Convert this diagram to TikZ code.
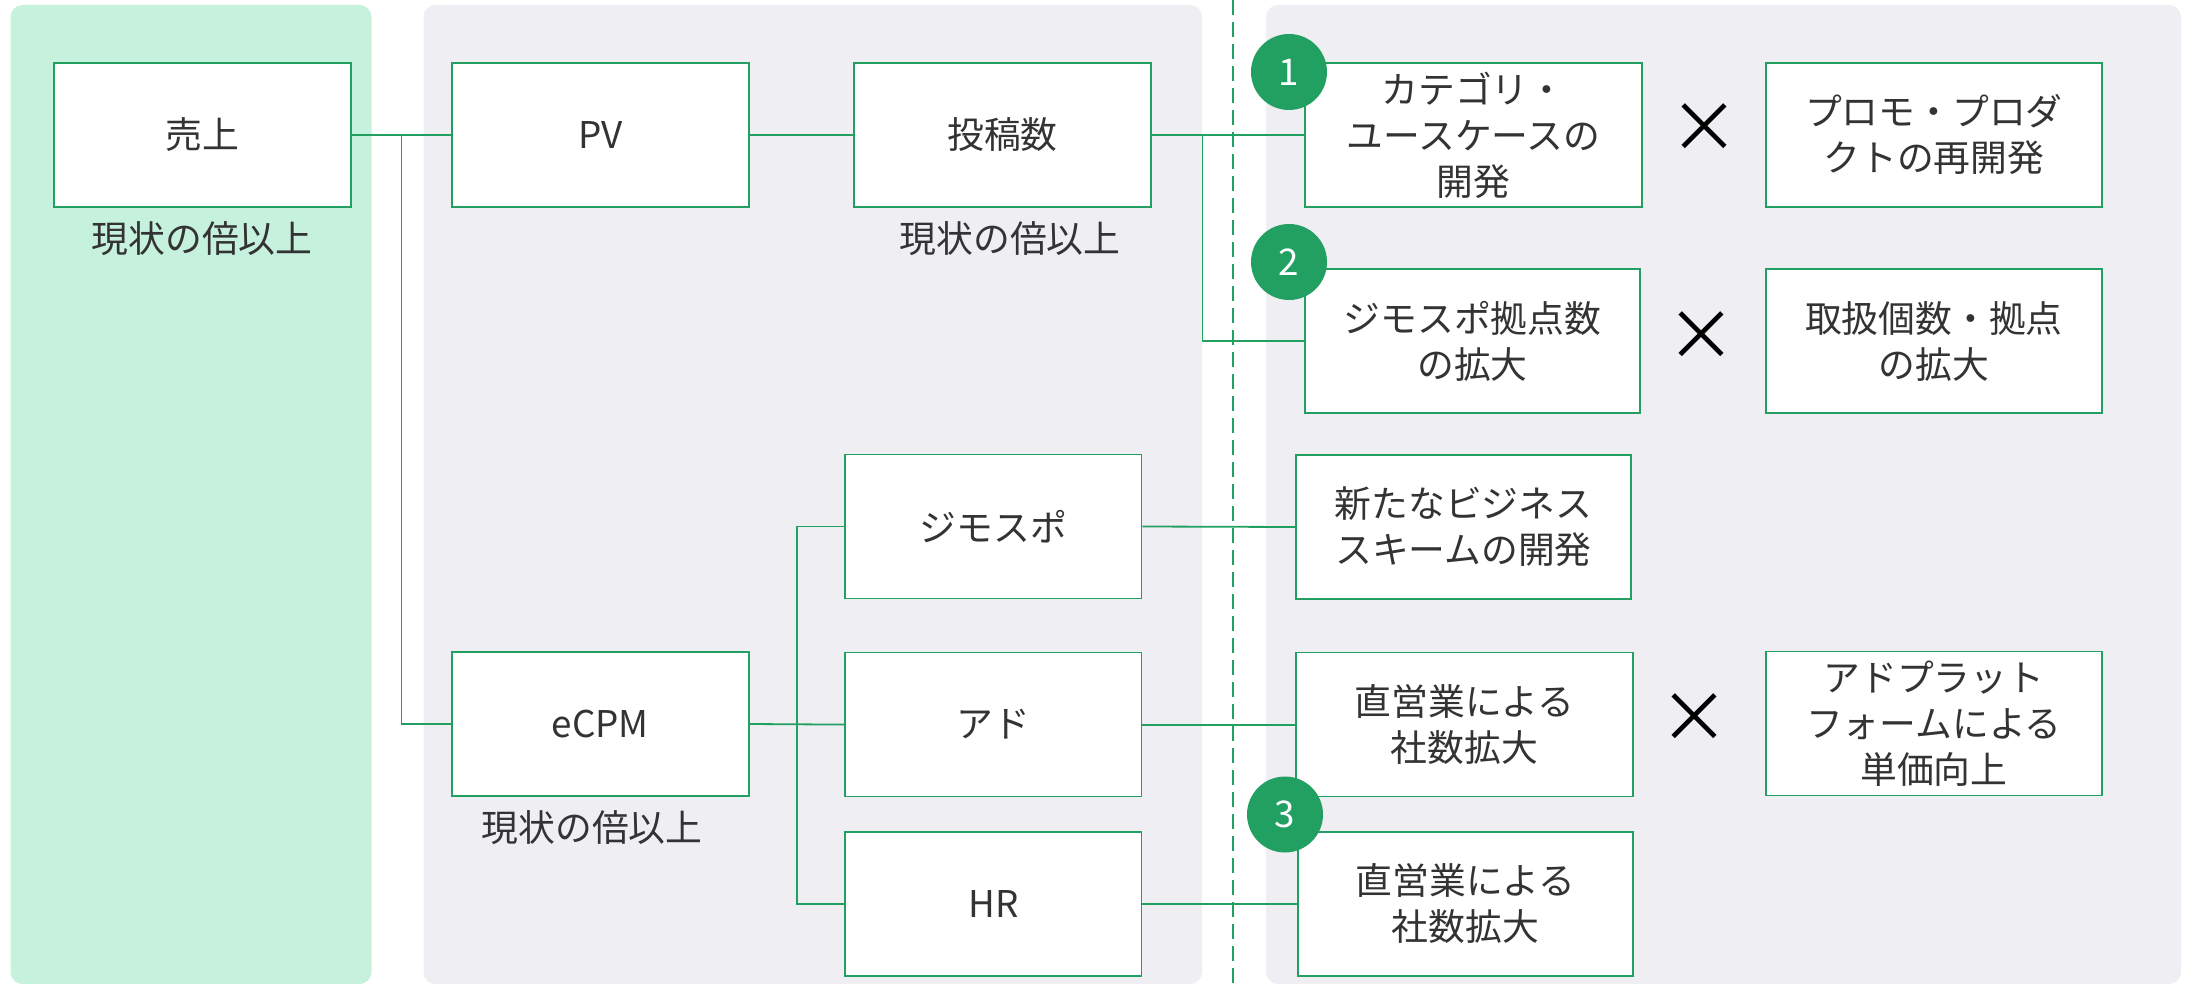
\documentclass[tikz,border=0pt]{standalone}
\usepackage{fontspec}
\setmainfont{Noto Sans CJK JP}
\newfontfamily\jpfont{Noto Sans CJK JP}
\definecolor{mint}{HTML}{C6F1DD}
\definecolor{panelgray}{HTML}{EEEEF3}
\definecolor{linegreen}{HTML}{22A062}
\definecolor{circgreen}{HTML}{21A062}
\definecolor{txt}{HTML}{333333}
\begin{document}
\begin{tikzpicture}[x=1pt,y=-1pt,
  box/.style={draw=linegreen,line width=1.5pt,fill=white,inner sep=0pt,
    minimum height=144pt,align=center,text=txt,
    font=\jpfont\fontsize{36.8}{46}\selectfont},
  lbl/.style={text=txt,inner sep=0pt,font=\jpfont\fontsize{36.8}{46}\selectfont},
  conn/.style={draw=linegreen,line width=1.8pt},
  num/.style={circle,fill=circgreen,minimum size=76pt,inner sep=0pt,text=white,
    font=\jpfont\fontsize{36.8}{46}\selectfont},
  crossmark/.style={inner sep=0pt,text=black,font=\jpfont\fontsize{70}{70}\selectfont},
  panel/.style={rounded corners=12pt}]
\useasboundingbox (0,0) rectangle (2190,984);
% panels
\fill[mint,panel] (10.5,5) rectangle (371.5,984);
\fill[panelgray,panel] (423.5,5) rectangle (1202,984);
\fill[panelgray,panel] (1266,5) rectangle (2181,984);
% dashed divider
\coordinate (dtop) at (1232.6,0);
\coordinate (dbot) at (1232.6,984);
\draw[linegreen,line width=2pt,dash pattern=on 15pt off 7pt] (dtop) -- (dbot);
% boxes
\node[box,minimum width=297pt] (uri) at (202.3,134.9) {売上};
\node[box,minimum width=297pt] (pv) at (600.3,134.9) {PV};
\node[box,minimum width=297pt] (toko) at (1002.5,134.9) {投稿数};
\node[box,minimum width=337pt] (b1) at (1473.5,134.9) {カテゴリ・\\ユースケースの\\開発};
\node[box,minimum width=336pt] (promo) at (1933.8,134.9) {プロモ・プロダ\\クトの再開発};
\node[box,minimum width=335pt] (b2) at (1472.5,341) {ジモスポ拠点数\\の拡大};
\node[box,minimum width=336pt] (tori) at (1933.8,341) {取扱個数・拠点\\の拡大};
\node[box,minimum width=297pt] (ecpm) at (600.3,724) {eCPM};
\node[box,minimum width=296.6pt] (jimo) at (993.3,526.5) {ジモスポ};
\node[box,minimum width=296.6pt] (ad) at (993.3,724.6) {アド};
\node[box,minimum width=296.6pt] (hr) at (993.3,904) {HR};
\node[box,minimum width=335pt] (arata) at (1463.5,527) {新たなビジネス\\スキームの開発};
\node[box,minimum width=337pt] (choku1) at (1464.5,724.6) {直営業による\\社数拡大};
\node[box,minimum width=336pt] (adplat) at (1933.8,723.3) {アドプラット\\フォームによる\\単価向上};
\node[box,minimum width=335pt] (choku2) at (1465.5,904) {直営業による\\社数拡大};
% labels
\node[lbl] (l1) at (202,239) {現状の倍以上};
\node[lbl] (l2) at (1010,239) {現状の倍以上};
\node[lbl] (l3) at (592,828) {現状の倍以上};
% crosses
\node[crossmark] (x1) at (1704,128) {×};
\node[crossmark] (x2) at (1701,336) {×};
\node[crossmark] (x3) at (1694,718) {×};
% number circles
\node[num] (c1) at (1289,72) {1};
\node[num] (c2) at (1289,262) {2};
\node[num] (c3) at (1285,814.5) {3};
% connectors
\coordinate (j1) at (401.5,134.9);
\coordinate (j2) at (1202.4,134.9);
\coordinate (j3) at (796.6,724);
\draw[conn] (uri.east) -- (pv.west);
\draw[conn] (j1) |- (ecpm.west);
\draw[conn] (pv.east) -- (toko.west);
\draw[conn] (toko.east) -- (b1.west);
\draw[conn] (j2) |- (b2.west);
\draw[conn] (ecpm.east) -- (ad.west);
\draw[conn] (jimo.west) -| (j3) |- (hr.west);
\draw[conn] (jimo.east) -- (arata.west);
\draw[conn] (ad.east) -- (choku1.west);
\draw[conn] (hr.east) -- (choku2.west);
\end{tikzpicture}
\end{document}
